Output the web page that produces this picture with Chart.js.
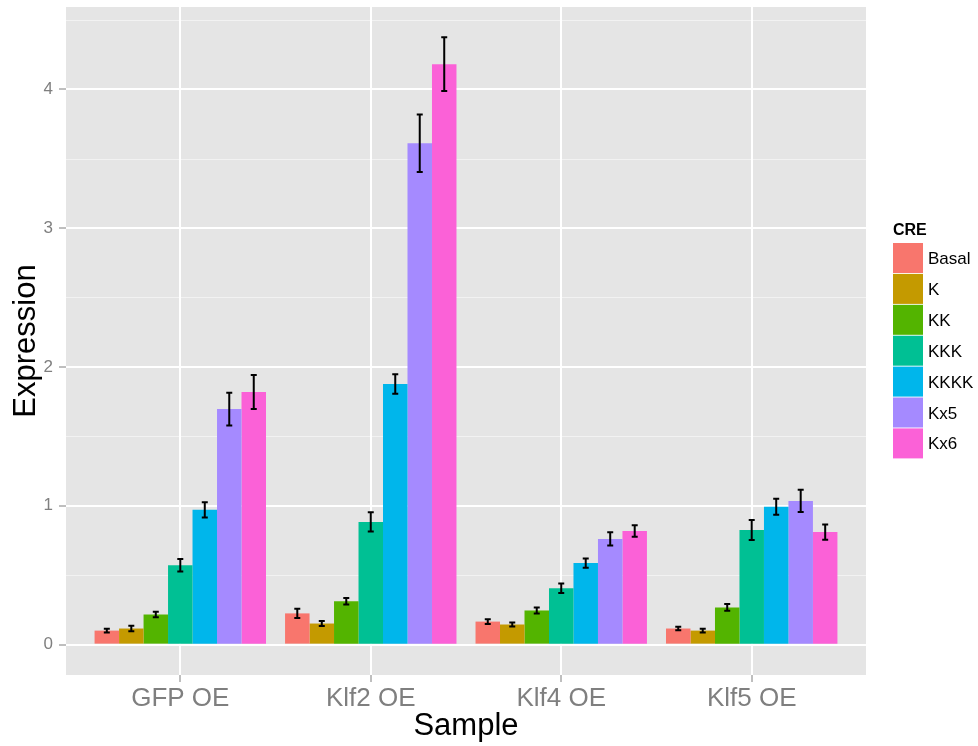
<!DOCTYPE html>
<html>
<head>
<meta charset="utf-8">
<script src="https://cdn.jsdelivr.net/npm/chart.js@4.4.1/dist/chart.umd.min.js"></script>
<style>
  html, body { margin: 0; padding: 0; background: #ffffff; }
  canvas { display: block; }
</style>
</head>
<body>
<canvas id="chart" width="978" height="746"></canvas>
<script>
// Samples on the x axis and CRE constructs as the grouped series
const samples = ['GFP OE', 'Klf2 OE', 'Klf4 OE', 'Klf5 OE'];
const cres = ['Basal', 'K', 'KK', 'KKK', 'KKKK', 'Kx5', 'Kx6'];
const creColors = ['#F8766D', '#C49A00', '#53B400', '#00C094', '#00B6EB', '#A58AFF', '#FB61D7'];
const yTickValues = [0, 1, 2, 3, 4];

// Mean expression per CRE (one value per sample)
const basal = [0.101, 0.225, 0.166, 0.116];
const k     = [0.116, 0.152, 0.145, 0.101];
const kk    = [0.217, 0.312, 0.246, 0.268];
const kkk   = [0.572, 0.884, 0.406, 0.826];
const kkkk  = [0.971, 1.877, 0.587, 0.993];
const kx5   = [1.696, 3.610, 0.761, 1.035];
const kx6   = [1.819, 4.180, 0.818, 0.811];

// Error (half-width of the error bar) per CRE
const basalErr = [0.013, 0.033, 0.017, 0.012];
const kErr     = [0.020, 0.018, 0.014, 0.013];
const kkErr    = [0.020, 0.023, 0.022, 0.024];
const kkkErr   = [0.045, 0.069, 0.034, 0.072];
const kkkkErr  = [0.055, 0.070, 0.034, 0.058];
const kx5Err   = [0.118, 0.207, 0.048, 0.080];
const kx6Err   = [0.122, 0.193, 0.042, 0.055];

const seriesValues = [basal, k, kk, kkk, kkkk, kx5, kx6];
const seriesErrors = [basalErr, kErr, kkErr, kkkErr, kkkkErr, kx5Err, kx6Err];

// y range: 0 .. top of highest error bar, padded by 5% on both sides
let dataMax = 0;
seriesValues.forEach((vals, s) => vals.forEach((v, i) => {
  dataMax = Math.max(dataMax, v + seriesErrors[s][i]);
}));
const yPad = dataMax * 0.05;

const FONT = '"Liberation Sans", Arial, Helvetica, sans-serif';
const PANEL = '#E5E5E5';
const TEXT_GREY = '#7F7F7F';

const datasets = cres.map((name, s) => ({
  label: name,
  data: seriesValues[s].map((v, i) => ({ x: i + 1, y: v })),
  errors: seriesErrors[s],
  backgroundColor: creColors[s],
  borderWidth: 0,
  categoryPercentage: 0.9,
  barPercentage: 1.0
}));

// Panel background and minor grid lines
const panelPlugin = {
  id: 'panel',
  beforeDraw(chart) {
    const { ctx, chartArea: a, scales } = chart;
    ctx.save();
    ctx.fillStyle = PANEL;
    ctx.fillRect(a.left, a.top, a.right - a.left, a.bottom - a.top);
    ctx.strokeStyle = '#F2F2F2';
    ctx.lineWidth = 1;
    for (let v = 0.5; v < scales.y.max; v += 1) {
      const py = Math.round(scales.y.getPixelForValue(v)) + 0.5;
      ctx.beginPath();
      ctx.moveTo(a.left, py);
      ctx.lineTo(a.right, py);
      ctx.stroke();
    }
    ctx.restore();
  }
};

// Error bars drawn on top of each bar
const errorBarPlugin = {
  id: 'errorBars',
  afterDatasetsDraw(chart) {
    const { ctx, scales } = chart;
    ctx.save();
    ctx.strokeStyle = '#000000';
    ctx.lineWidth = 2;
    chart.data.datasets.forEach((ds, d) => {
      const meta = chart.getDatasetMeta(d);
      meta.data.forEach((bar, i) => {
        const v = ds.data[i].y;
        const e = ds.errors[i];
        const x = bar.x;
        const yHi = scales.y.getPixelForValue(v + e);
        const yLo = scales.y.getPixelForValue(v - e);
        const half = 3;
        ctx.beginPath();
        ctx.moveTo(x, yHi); ctx.lineTo(x, yLo);
        ctx.moveTo(x - half, yHi); ctx.lineTo(x + half, yHi);
        ctx.moveTo(x - half, yLo); ctx.lineTo(x + half, yLo);
        ctx.stroke();
      });
    });
    ctx.restore();
  }
};

// Axis titles and the CRE legend
const annotationPlugin = {
  id: 'annotations',
  afterDraw(chart) {
    const { ctx, chartArea: a } = chart;
    ctx.save();
    ctx.fillStyle = '#000000';
    ctx.font = '31px ' + FONT;
    ctx.textAlign = 'center';
    ctx.textBaseline = 'alphabetic';
    ctx.fillText('Sample', (a.left + a.right) / 2, 735);

    ctx.save();
    ctx.translate(35, (a.top + a.bottom) / 2);
    ctx.rotate(-Math.PI / 2);
    ctx.fillText('Expression', 0, 0);
    ctx.restore();

    // legend
    const lx = 893, ly = 243, key = 30, pitch = 30.9;
    ctx.textAlign = 'left';
    ctx.font = 'bold 16px ' + FONT;
    ctx.fillText('CRE', lx, 235);
    ctx.font = '17px ' + FONT;
    chart.data.datasets.forEach((ds, s) => {
      const ky = ly + s * pitch;
      ctx.fillStyle = ds.backgroundColor;
      ctx.fillRect(lx, ky, key, key);
      ctx.fillStyle = '#000000';
      ctx.fillText(ds.label, lx + 35, ky + key / 2 + 6);
    });
    ctx.restore();
  }
};

new Chart(document.getElementById('chart'), {
  type: 'bar',
  data: { datasets },
  options: {
    responsive: false,
    animation: false,
    layout: { padding: { top: 7, right: 112, left: 0, bottom: 0 } },
    plugins: { legend: { display: false }, tooltip: { enabled: false } },
    scales: {
      x: {
        type: 'linear',
        min: 0.4,
        max: 4.6,
        offset: false,
        grid: {
          offset: false,
          color: '#FFFFFF',
          lineWidth: 2,
          tickColor: TEXT_GREY,
          tickLength: 7,
          tickWidth: 1
        },
        border: { display: false },
        afterBuildTicks(scale) {
          scale.ticks = samples.map((_, i) => ({ value: i + 1 }));
        },
        afterFit(scale) {
          scale.height = 71;
          scale.paddingLeft = 0;
          scale.paddingRight = 0;
        },
        ticks: {
          autoSkip: false,
          maxRotation: 0,
          padding: 1,
          color: TEXT_GREY,
          font: { family: FONT, size: 26 },
          callback: (v) => samples[Math.round(v) - 1] || ''
        }
      },
      y: {
        type: 'linear',
        min: -yPad,
        max: dataMax + yPad,
        grid: {
          color: '#FFFFFF',
          lineWidth: 2,
          tickColor: TEXT_GREY,
          tickLength: 7,
          tickWidth: 1
        },
        border: { display: false },
        afterBuildTicks(scale) {
          scale.ticks = yTickValues.map(v => ({ value: v }));
        },
        afterFit(scale) {
          scale.width = 66;
          scale.paddingTop = 0;
          scale.paddingBottom = 0;
        },
        ticks: {
          padding: 6,
          color: TEXT_GREY,
          font: { family: FONT, size: 17 },
          callback: (v) => String(v)
        }
      }
    }
  },
  plugins: [panelPlugin, errorBarPlugin, annotationPlugin]
});
</script>
</body>
</html>
